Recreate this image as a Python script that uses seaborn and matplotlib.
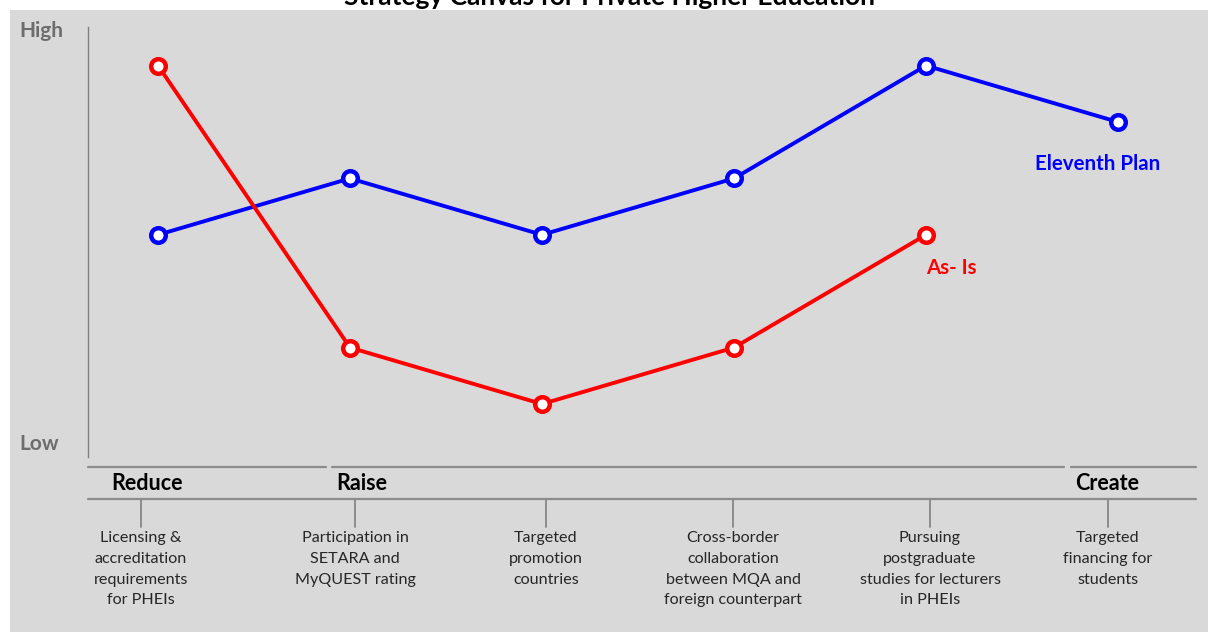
import matplotlib
matplotlib.use("Agg")
import matplotlib.pyplot as plt
import matplotlib.transforms as mtransforms
from matplotlib.patches import Rectangle
from matplotlib.lines import Line2D
import numpy as np
import pandas as pd
import seaborn as sns

# ---- data ----
factors = [
    "Licensing &\naccreditation\nrequirements\nfor PHEIs",
    "Participation in\nSETARA and\nMyQUEST rating",
    "Targeted\npromotion\ncountries",
    "Cross-border\ncollaboration\nbetween MQA and\nforeign counterpart",
    "Pursuing\npostgraduate\nstudies for lecturers\nin PHEIs",
    "Targeted\nfinancing for\nstudents",
]
eleventh_plan = [5, 6, 5, 6, 8, 7]
as_is = [8, 3, 2, 3, 5, np.nan]
groups = ["Reduce", "Raise", "Create"]
title = "Strategy Canvas for Private Higher Education"

sns.set_theme(style="white")
plt.rcParams["font.family"] = ["Lato", "DejaVu Sans"]

W, H = 1208, 632
fig = plt.figure(figsize=(W / 100, H / 100), dpi=100, facecolor="white")

def fx(px):
    return px / W

def fy(py):
    return 1 - py / H

# grey panel
fig.patches.append(Rectangle((fx(10), 0), 1 - fx(10), fy(10), transform=fig.transFigure,
                             facecolor="#d9d9d9", edgecolor="none", zorder=-10))

ax = fig.add_axes([fx(88), fy(457), fx(1200) - fx(88), fy(27) - fy(457)])
ax.set_facecolor("none")

x = np.arange(len(factors))
df_b = pd.DataFrame({"x": x, "v": eleventh_plan})
df_r = pd.DataFrame({"x": x, "v": as_is}).dropna()

mk = dict(marker="o", markersize=10.5, markerfacecolor="white", markeredgewidth=3.2)
sns.lineplot(data=df_b, x="x", y="v", ax=ax, color="#0000ff", linewidth=2.8,
             markeredgecolor="#0000ff", **mk)
sns.lineplot(data=df_r, x="x", y="v", ax=ax, color="#ff0000", linewidth=2.8,
             markeredgecolor="#ff0000", **mk)

ax.set_xlim(-70 / 192, (1200 - 158) / 192)
ax.set_ylim(2 - 53 / 56.4, 2 + 377 / 56.4)
ax.set_xticks([])
ax.set_yticks([])
ax.set_xlabel("")
ax.set_ylabel("")
for s in ["top", "right", "bottom"]:
    ax.spines[s].set_visible(False)
ax.spines["left"].set_color("#7f7f7f")
ax.spines["left"].set_linewidth(1)

# series labels
fig.text(fx(1098), fy(164), "Eleventh Plan", color="#0000ff",
         fontsize=14.8, fontweight="bold", ha="center", va="center")
fig.text(fx(951), fy(268), "As- Is", color="#ff0000",
         fontsize=14.8, fontweight="bold", ha="center", va="center")

# High / Low
fig.text(fx(19), fy(31), "High", color="#6d6d6d", fontsize=15, fontweight="bold",
         ha="left", va="center")
fig.text(fx(19), fy(444), "Low", color="#6d6d6d", fontsize=15, fontweight="bold",
         ha="left", va="center")

# title (cut off at top as in reference)
fig.text(fx(610), fy(5), title, fontsize=19, fontweight="bold", ha="center",
         va="baseline", color="black")

# lower strip
lc = "#8c8c8c"
for a, b in [(88, 326), (332, 1064), (1071, 1196)]:
    fig.add_artist(Line2D([fx(a), fx(b)], [fy(467), fy(467)], transform=fig.transFigure,
                          color=lc, lw=1.6))
fig.add_artist(Line2D([fx(88), fx(1196)], [fy(499), fy(499)], transform=fig.transFigure,
                      color=lc, lw=1.6))
for g, cx in zip(groups, [147, 362, 1107]):
    fig.text(fx(cx), fy(483), g, fontsize=15.5, fontweight="bold", ha="center",
             va="center", color="black")

blend = mtransforms.blended_transform_factory(ax.transData, fig.transFigure)
tick_offsets = [-17, 5, 4, -1, 4, -10]
for i, (lab, off) in enumerate(zip(factors, tick_offsets)):
    xx = x[i] + off / 192
    fig.add_artist(Line2D([xx, xx], [fy(499), fy(527)], transform=blend, color=lc, lw=1.4))
    fig.text(xx, fy(531), lab, transform=blend, fontsize=11.6, ha="center", va="top",
             color="#262626", linespacing=1.62)

fig.savefig("out.png", dpi=100, facecolor="white")
